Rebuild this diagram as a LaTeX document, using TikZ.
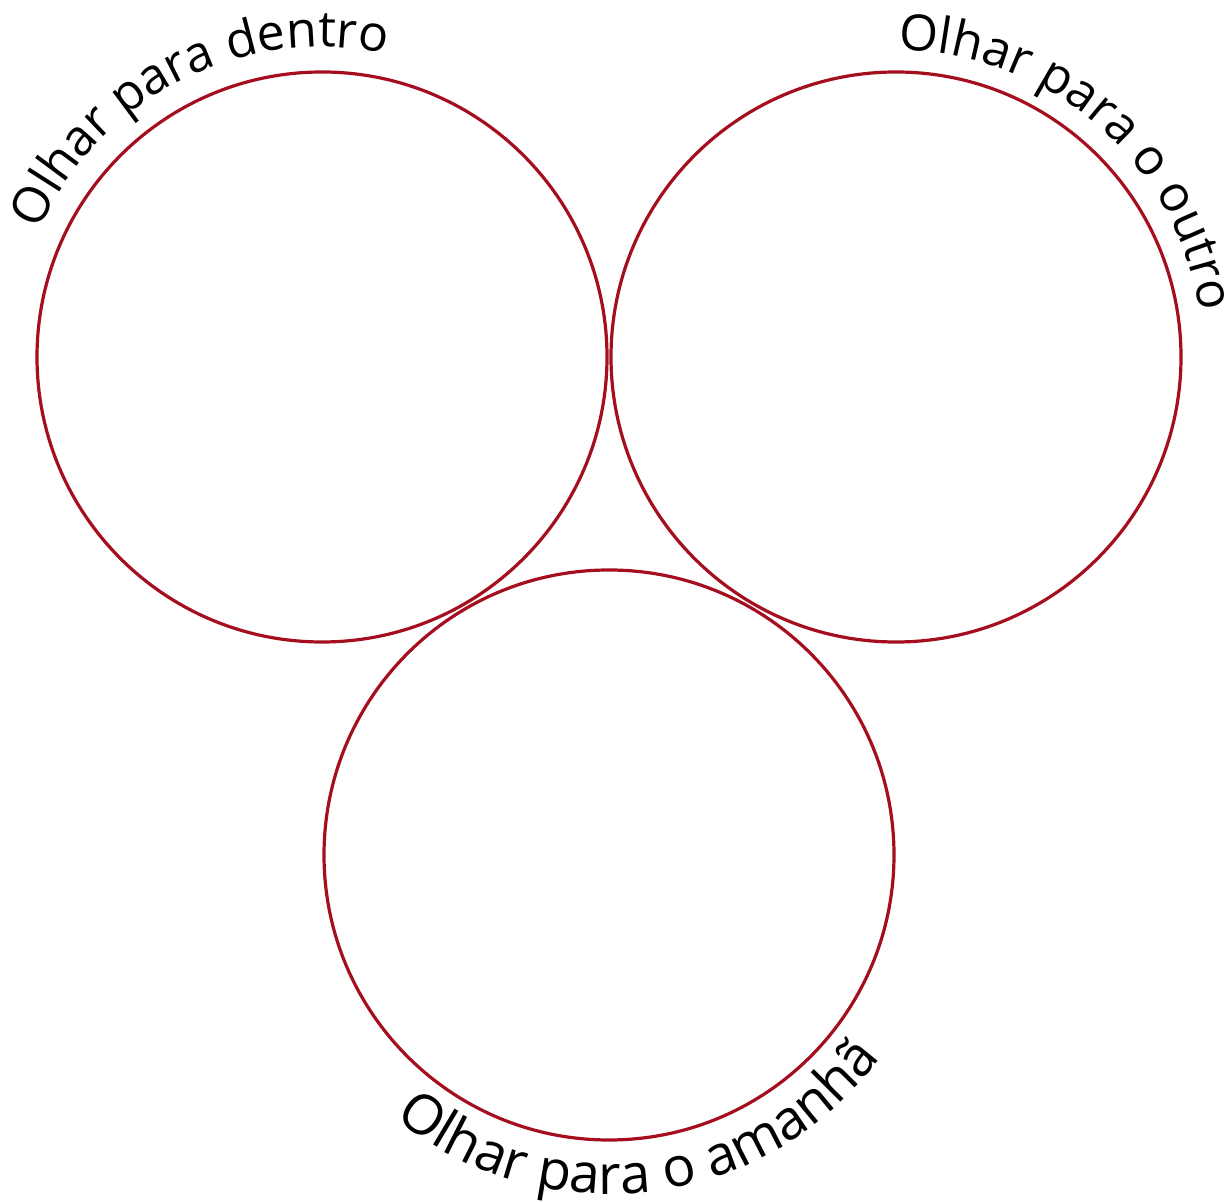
\documentclass[tikz,border=0pt]{standalone}
\usepackage{fontspec}
\setmainfont{Open Sans}
\usetikzlibrary{decorations.text,calc}
\definecolor{ringred}{RGB}{165,14,30}
\begin{document}
\begin{tikzpicture}[x=1pt,y=1pt,
  ring/.style={circle, draw=ringred, line width=3.2pt, minimum size=570pt, inner sep=0pt},
  arclabel/.style 2 args={decorate, decoration={text along path, text align=center,
      text={|\fontsize{#1}{#1}\selectfont|#2}}}]
\useasboundingbox (0,0) rectangle (1232,1202);
\node[ring] (c1) at (322,845) {};
\node[ring] (c2) at (896,845) {};
\node[ring] (c3) at (609,347) {};
\path[arclabel={50}{Olhar para dentro}] ($(c1.center)+(177:310)$) arc[start angle=177, end angle=57, radius=310];
\path[arclabel={50}{Olhar para o outro}] ($(c2.center)+(109:307)$) arc[start angle=109, end angle=-11, radius=307];
\path[arclabel={55}{Olhar para o amanhã}] ($(c3.center)+(217:339)$) arc[start angle=217, end angle=337, radius=339];
\end{tikzpicture}
\end{document}
